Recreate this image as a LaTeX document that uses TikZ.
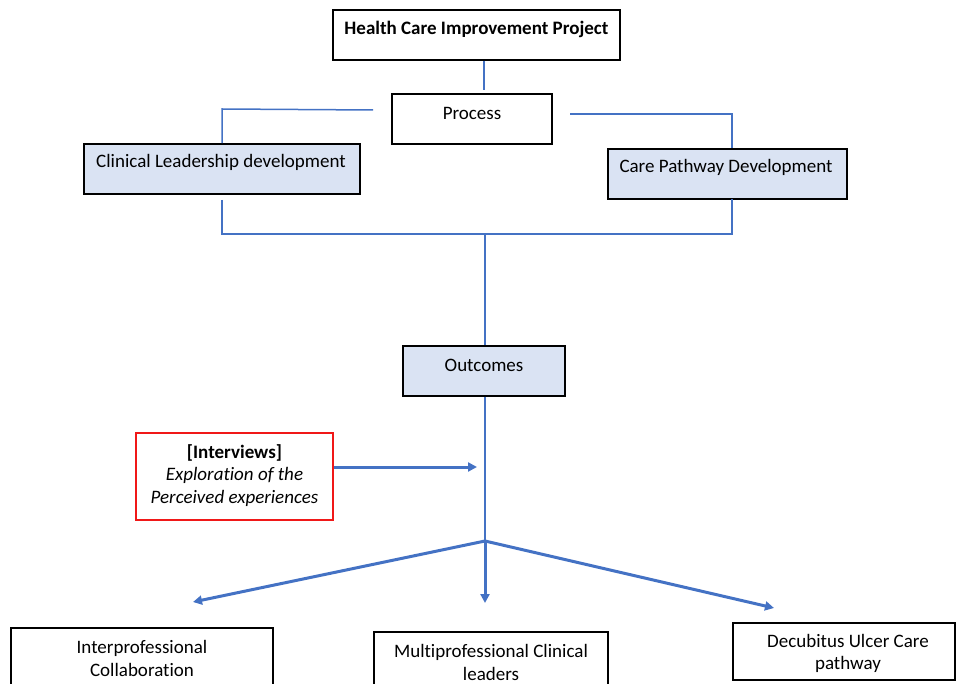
\documentclass[tikz,border=0pt]{standalone}
\usepackage{fontspec}
\setmainfont{Carlito}[RawFeature=-liga]
\usetikzlibrary{arrows.meta}
\definecolor{lnblue}{HTML}{4472C4}
\definecolor{boxfill}{HTML}{DAE3F3}
\definecolor{redbox}{HTML}{F01818}
\tikzset{
  box/.style={draw=black, line width=1.5pt, inner sep=0pt},
  bluebox/.style={box, fill=boxfill},
  txt/.style={font=\fontsize{19}{22.5}\selectfont, align=center, inner sep=0pt},
  thin/.style={draw=lnblue, line width=1.5pt},
  thick/.style={draw=lnblue, line width=3pt, -{Triangle[length=9pt,width=9pt]}},
}
\begin{document}
\begin{tikzpicture}[x=1pt,y=-1pt]
\useasboundingbox (0,0) rectangle (956,684);
\clip (0,0) rectangle (956,684);
% boxes
\node[box, minimum width=287pt, minimum height=50pt] (hcip) at (476.5,35) {};
\node[txt, font=\fontsize{19}{22}\selectfont\bfseries] (hcipt) at (476.5,29.5) {Health Care Improvement Project};
\node[box, minimum width=160pt, minimum height=50pt] (proc) at (472,119) {};
\node[txt] (proct) at (472,113.5) {Process};
\node[bluebox, minimum width=276pt, minimum height=50pt] (clin) at (222,169) {};
\node[txt] (clint) at (221,162.5) {Clinical Leadership development};
\node[bluebox, minimum width=239pt, minimum height=50pt] (care) at (727.5,174) {};
\node[txt] (caret) at (726,167.5) {Care Pathway Development};
\node[bluebox, minimum width=162pt, minimum height=50pt] (outc) at (484,371) {};
\node[txt] (outct) at (484,365.5) {Outcomes};
\node[box, draw=redbox, minimum width=197pt, minimum height=87pt] (intv) at (234.5,476.5) {};
\node[txt] (intvt) at (234.5,475.5) {\textbf{[Interviews]}\\\textit{Exploration of the}\\\textit{Perceived experiences}};
\node[box, minimum width=262pt, minimum height=70pt] (inter) at (142,663) {};
\node[txt] (intert) at (142,658.5) {Interprofessional\\Collaboration};
\node[box, minimum width=234pt, minimum height=70pt] (multi) at (491,667) {};
\node[txt] (multit) at (491,662.5) {Multiprofessional Clinical\\leaders};
\node[box, minimum width=222pt, minimum height=57pt] (decu) at (844,651.5) {};
\node[txt] (decut) at (848,653.5) {Decubitus Ulcer Care\\pathway};
% connector coordinates
\coordinate (hb) at (484,90);
\coordinate (pl) at (373,110);
\coordinate (cl) at (222,109);
\coordinate (pr) at (570,114);
\coordinate (cr) at (732,114);
\coordinate (jl) at (222,234);
\coordinate (jr) at (732,234);
\coordinate (jm) at (485,234);
\coordinate (split) at (485,541);
\coordinate (ia) at (477,467);
\coordinate (al) at (193,602);
\coordinate (am) at (485,603);
\coordinate (ar) at (774,608);
% thin connectors
\draw[thin] (hcip.south -| hb) -- (hb);
\draw[thin] (pl) -- (cl) -- (cl |- clin.north);
\draw[thin] (pr) -- (cr) -- (cr |- care.north);
\draw[thin] (222,200) -- (jl) -- (jr) -- (732,199);
\draw[thin] (jm) -- (jm |- outc.north);
\draw[thin] (outc.south -| split) -- (split);
% thick arrows
\draw[thick] (intv.east |- ia) -- (ia);
\draw[thick] (split) -- (al);
\draw[thick] (split) -- (am);
\draw[thick] (split) -- (ar);
\end{tikzpicture}
\end{document}
